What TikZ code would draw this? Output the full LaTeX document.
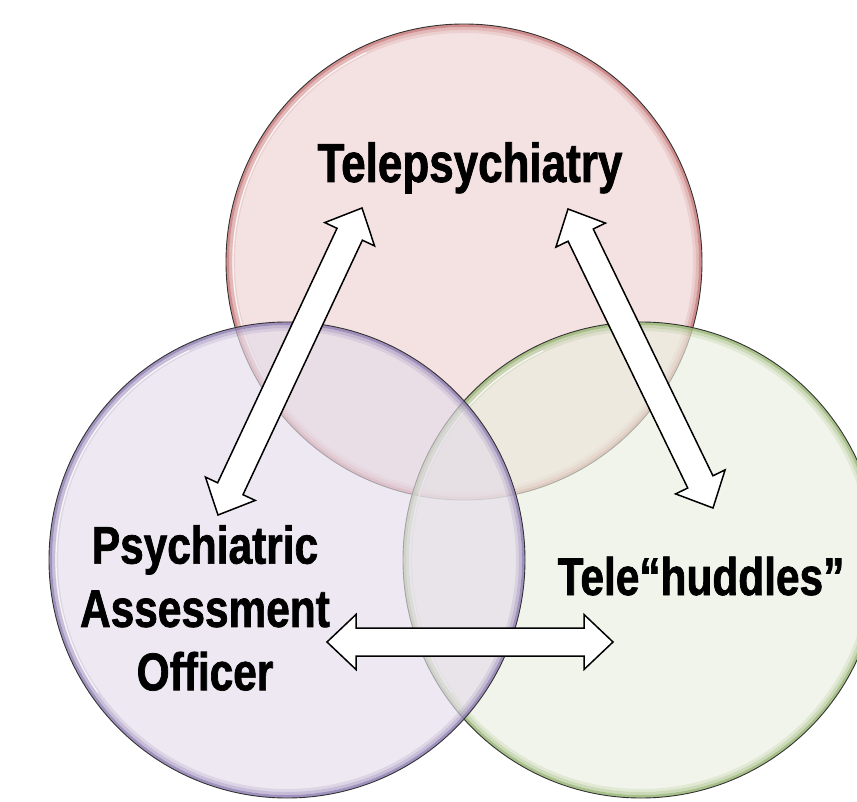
\documentclass[tikz,border=0pt]{standalone}
\usepackage{fontspec}
\newfontfamily\labelfont{Liberation Sans}[FakeStretch=0.8, FakeBold=1.3]
\usetikzlibrary{calc}
\definecolor{telefill}{RGB}{238,210,211}
\definecolor{telerim}{RGB}{190,96,96}
\definecolor{paofill}{RGB}{228,220,233}
\definecolor{paorim}{RGB}{120,100,164}
\definecolor{hudfill}{RGB}{233,238,222}
\definecolor{hudrim}{RGB}{130,166,88}

\begin{document}
\begin{tikzpicture}[x=1pt,y=-1pt,
  venntext/.style={font=\labelfont\bfseries\fontsize{#1}{63.3}\selectfont, inner sep=0pt},
  arrowbox/.style={draw=black, fill=white, line width=1.5pt, line join=miter}]
\useasboundingbox (0,0) rectangle (857,802);

% three circles, each with a soft coloured rim
\foreach \cx/\cy/\f/\r in {464/262/telefill/telerim, 641/560/hudfill/hudrim, 287/560/paofill/paorim} {
  \fill [\f, fill opacity=0.65] (\cx,\cy) circle (238pt);
  \foreach \rad/\op in {236.5/0.65, 233.5/0.32, 230.5/0.14}
    \draw [\r, opacity=\op, line width=3pt] (\cx,\cy) circle (\rad pt);
  \draw [white, opacity=0.8, line width=1.2pt] ($(\cx,\cy)+(115:231pt)$) arc (115:215:231pt);
  \draw [black!80, line width=0.9pt] (\cx,\cy) circle (238pt);
}

% arrow ends
\coordinate (tele-w) at (362,208);
\coordinate (pao-n) at (218,515);
\coordinate (tele-e) at (568,209);
\coordinate (hud-n) at (713,508);
\coordinate (pao-e) at (327,642);
\coordinate (hud-w) at (613,642);

% double block arrows
\foreach \a/\b in {tele-w/pao-n, tele-e/hud-n, pao-e/hud-w}
  \draw [arrowbox] (\a)
    -- ($(\a)!29pt!(\b)!27.5pt!90:(\b)$)
    -- ($(\a)!29pt!(\b)!14pt!90:(\b)$)
    -- ($(\b)!29pt!(\a)!14pt!-90:(\a)$)
    -- ($(\b)!29pt!(\a)!27.5pt!-90:(\a)$)
    -- (\b)
    -- ($(\b)!29pt!(\a)!27.5pt!90:(\a)$)
    -- ($(\b)!29pt!(\a)!14pt!90:(\a)$)
    -- ($(\a)!29pt!(\b)!14pt!-90:(\b)$)
    -- ($(\a)!29pt!(\b)!27.5pt!-90:(\b)$)
    -- cycle;

% labels
\node [venntext=55, anchor=base] (tele) at (470,182) {Telepsychiatry};
\node [venntext=53, align=center, anchor=north] (pao) at (205,525) {Psychiatric\\Assessment\\Officer};
\node [venntext=53, anchor=base] (hud) at (701,595) {Tele“huddles”};
\end{tikzpicture}
\end{document}
